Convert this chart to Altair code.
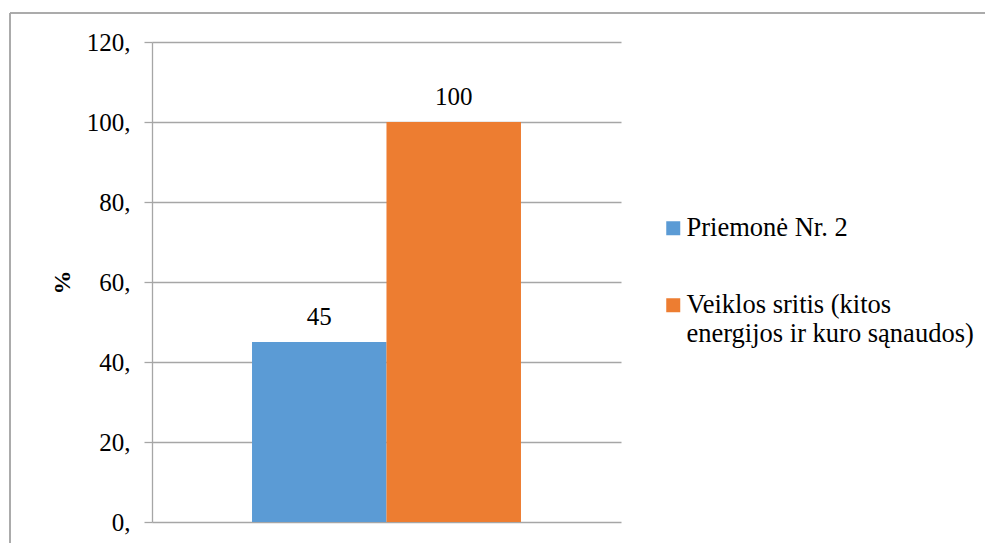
import altair as alt
import pandas as pd

# Chart data
series = ["Priemonė Nr. 2", "Veiklos sritis (kitos energijos ir kuro sąnaudos)"]
values = [45, 100]
colors = ["#5B9BD5", "#ED7D31"]
y_ticks = [0, 20, 40, 60, 80, 100, 120]

FONT = "'Liberation Serif', 'Times New Roman', serif"
GRID = "#A6A6A6"

df = pd.DataFrame({"group": ["a", "a"], "series": series, "value": values})

x_enc = alt.X("group:N", axis=None,
              scale=alt.Scale(paddingInner=0, paddingOuter=0.372))
xo_enc = alt.XOffset("series:N", sort=series,
                     scale=alt.Scale(paddingInner=0, paddingOuter=0))
y_scale = alt.Scale(domain=[0, 120], nice=False)

label_expr = ("datum.label == 'Veiklos sritis (kitos energijos ir kuro sąnaudos)'"
              " ? ['Veiklos sritis (kitos', 'energijos ir kuro sąnaudos)'] : datum.label")

bars = alt.Chart(df).mark_bar(size=134.5).encode(
    x=x_enc,
    xOffset=xo_enc,
    y=alt.Y("value:Q", scale=y_scale, title="%",
            axis=alt.Axis(values=y_ticks, labelExpr="datum.value + ','",
                          grid=True, gridColor=GRID, gridWidth=1.3,
                          domainColor=GRID, domainWidth=1.3,
                          tickColor=GRID, tickWidth=1.3, tickSize=8,
                          labelFont=FONT, labelFontSize=25, labelColor="black",
                          labelPadding=14,
                          titleFont=FONT, titleFontSize=24, titleFontWeight="bold",
                          titleColor="black", titlePadding=12)),
    color=alt.Color("series:N", sort=series,
                    scale=alt.Scale(domain=series, range=colors),
                    legend=alt.Legend(title=None, orient="none",
                                      legendX=508, legendY=173,
                                      symbolType="square", symbolSize=196,
                                      symbolStrokeWidth=0, symbolOpacity=1,
                                      labelFont=FONT, labelFontSize=26.5,
                                      labelColor="black", labelLimit=0,
                                      labelOffset=0, rowPadding=50,
                                      labelExpr=label_expr, padding=0)),
)

texts = alt.Chart(df).mark_text(
    font=FONT, fontSize=25, color="black", baseline="alphabetic", dy=-17
).encode(
    x=x_enc,
    xOffset=xo_enc,
    y=alt.Y("value:Q", scale=y_scale),
    text=alt.Text("value:Q"),
)

# Outer frame lines (left and top edges)
frame_left = alt.Chart(df).mark_rule(color="#A6A6A6", strokeWidth=1.5).encode(
    x=alt.value(-142), y=alt.value(-29), y2=alt.value(520)
)
frame_top = alt.Chart(df).mark_rule(color="#A6A6A6", strokeWidth=1.5).encode(
    x=alt.value(-142), x2=alt.value(840), y=alt.value(-29)
)

chart = alt.layer(bars, texts, frame_left, frame_top).properties(
    width=469, height=480,
    padding={"left": 152, "top": 42, "right": 364, "bottom": 21},
    autosize=alt.AutoSizeParams(type="none"),
    background="white",
).configure(font=FONT).configure_view(stroke=None)

chart.save("out.html", embed_options={"renderer": "svg", "actions": False})
